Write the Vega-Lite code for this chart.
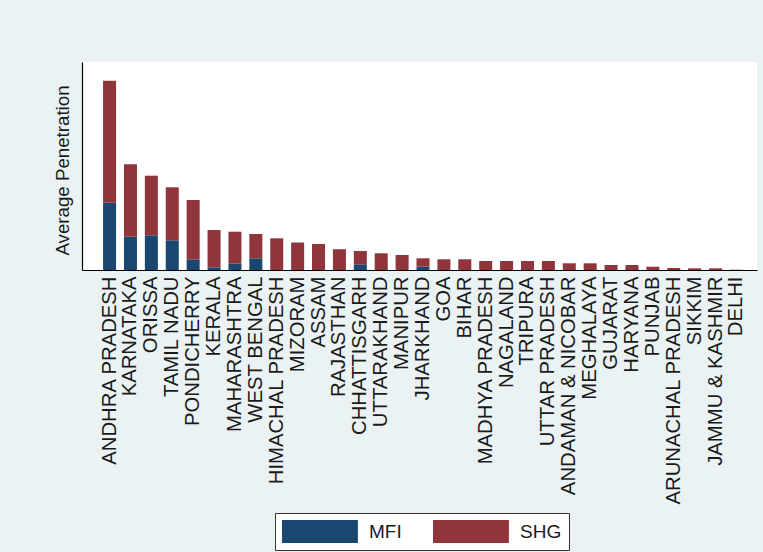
{
  "$schema": "https://vega.github.io/schema/vega-lite/v6.json",
  "autosize": {"type": "none"},
  "width": 675,
  "height": 208,
  "padding": {"left": 82, "top": 62, "right": 6, "bottom": 282},
  "background": "#eaf2f3",
  "data": {
    "values": [
      {"state": "ANDHRA PRADESH", "source": "MFI", "value": 0.673},
      {"state": "ANDHRA PRADESH", "source": "SHG", "value": 1.220},
      {"state": "KARNATAKA", "source": "MFI", "value": 0.333},
      {"state": "KARNATAKA", "source": "SHG", "value": 0.724},
      {"state": "ORISSA", "source": "MFI", "value": 0.347},
      {"state": "ORISSA", "source": "SHG", "value": 0.596},
      {"state": "TAMIL NADU", "source": "MFI", "value": 0.297},
      {"state": "TAMIL NADU", "source": "SHG", "value": 0.530},
      {"state": "PONDICHERRY", "source": "MFI", "value": 0.107},
      {"state": "PONDICHERRY", "source": "SHG", "value": 0.593},
      {"state": "KERALA", "source": "MFI", "value": 0.027},
      {"state": "KERALA", "source": "SHG", "value": 0.373},
      {"state": "MAHARASHTRA", "source": "MFI", "value": 0.063},
      {"state": "MAHARASHTRA", "source": "SHG", "value": 0.320},
      {"state": "WEST BENGAL", "source": "MFI", "value": 0.117},
      {"state": "WEST BENGAL", "source": "SHG", "value": 0.243},
      {"state": "HIMACHAL PRADESH", "source": "MFI", "value": 0},
      {"state": "HIMACHAL PRADESH", "source": "SHG", "value": 0.317},
      {"state": "MIZORAM", "source": "MFI", "value": 0},
      {"state": "MIZORAM", "source": "SHG", "value": 0.275},
      {"state": "ASSAM", "source": "MFI", "value": 0},
      {"state": "ASSAM", "source": "SHG", "value": 0.260},
      {"state": "RAJASTHAN", "source": "MFI", "value": 0},
      {"state": "RAJASTHAN", "source": "SHG", "value": 0.207},
      {"state": "CHHATTISGARH", "source": "MFI", "value": 0.057},
      {"state": "CHHATTISGARH", "source": "SHG", "value": 0.133},
      {"state": "UTTARAKHAND", "source": "MFI", "value": 0},
      {"state": "UTTARAKHAND", "source": "SHG", "value": 0.167},
      {"state": "MANIPUR", "source": "MFI", "value": 0},
      {"state": "MANIPUR", "source": "SHG", "value": 0.150},
      {"state": "JHARKHAND", "source": "MFI", "value": 0.033},
      {"state": "JHARKHAND", "source": "SHG", "value": 0.084},
      {"state": "GOA", "source": "MFI", "value": 0},
      {"state": "GOA", "source": "SHG", "value": 0.107},
      {"state": "BIHAR", "source": "MFI", "value": 0},
      {"state": "BIHAR", "source": "SHG", "value": 0.107},
      {"state": "MADHYA PRADESH", "source": "MFI", "value": 0},
      {"state": "MADHYA PRADESH", "source": "SHG", "value": 0.090},
      {"state": "NAGALAND", "source": "MFI", "value": 0},
      {"state": "NAGALAND", "source": "SHG", "value": 0.090},
      {"state": "TRIPURA", "source": "MFI", "value": 0},
      {"state": "TRIPURA", "source": "SHG", "value": 0.090},
      {"state": "UTTAR PRADESH", "source": "MFI", "value": 0},
      {"state": "UTTAR PRADESH", "source": "SHG", "value": 0.090},
      {"state": "ANDAMAN & NICOBAR", "source": "MFI", "value": 0},
      {"state": "ANDAMAN & NICOBAR", "source": "SHG", "value": 0.067},
      {"state": "MEGHALAYA", "source": "MFI", "value": 0},
      {"state": "MEGHALAYA", "source": "SHG", "value": 0.067},
      {"state": "GUJARAT", "source": "MFI", "value": 0},
      {"state": "GUJARAT", "source": "SHG", "value": 0.050},
      {"state": "HARYANA", "source": "MFI", "value": 0},
      {"state": "HARYANA", "source": "SHG", "value": 0.050},
      {"state": "PUNJAB", "source": "MFI", "value": 0},
      {"state": "PUNJAB", "source": "SHG", "value": 0.033},
      {"state": "ARUNACHAL PRADESH", "source": "MFI", "value": 0},
      {"state": "ARUNACHAL PRADESH", "source": "SHG", "value": 0.020},
      {"state": "SIKKIM", "source": "MFI", "value": 0},
      {"state": "SIKKIM", "source": "SHG", "value": 0.017},
      {"state": "JAMMU & KASHMIR", "source": "MFI", "value": 0},
      {"state": "JAMMU & KASHMIR", "source": "SHG", "value": 0.017},
      {"state": "DELHI", "source": "MFI", "value": 0},
      {"state": "DELHI", "source": "SHG", "value": 0.003}
    ]
  },
  "mark": {"type": "bar"},
  "encoding": {
    "x": {
      "field": "state",
      "type": "nominal",
      "sort": null,
      "scale": {"paddingInner": 0.377, "paddingOuter": 0.84, "align": 0.6},
      "axis": {
        "title": null,
        "labelAngle": -90,
        "labelAlign": "right",
        "labelBaseline": "middle",
        "labelFontSize": 20.3,
        "labelFont": "Liberation Sans",
        "labelColor": "#1a1a1a",
        "labelPadding": 6,
        "labelOverlap": false,
        "labelBound": false,
        "labelLimit": 400,
        "ticks": false,
        "domainColor": "#000000",
        "domainWidth": 1.2
      }
    },
    "y": {
      "field": "value",
      "type": "quantitative",
      "stack": "zero",
      "scale": {"domain": [0, 2.08], "nice": false, "zero": true},
      "axis": {
        "title": "Average Penetration",
        "titleFont": "Liberation Sans",
        "titleFontSize": 18.7,
        "titleFontWeight": "normal",
        "titleColor": "#1a1a1a",
        "titlePadding": 10,
        "titleY": 108,
        "labels": false,
        "ticks": false,
        "grid": false,
        "domainColor": "#000000",
        "domainWidth": 1.2
      }
    },
    "color": {
      "field": "source",
      "type": "nominal",
      "scale": {"domain": ["MFI", "SHG"], "range": ["#1a476f", "#90353b"]},
      "legend": {
        "title": null,
        "orient": "none",
        "legendX": 193,
        "legendY": 451,
        "direction": "horizontal",
        "fillColor": "#ffffff",
        "strokeColor": "#333333",
        "padding": 7,
        "symbolType": "M-1,-1H5.6V1H-1Z",
        "symbolSize": 529,
        "symbolStrokeWidth": 0,
        "symbolOpacity": 1,
        "labelOffset": 64,
        "columnPadding": 31,
        "labelFont": "Liberation Sans",
        "labelFontSize": 19,
        "labelColor": "#1a1a1a"
      }
    },
    "order": {"field": "source", "sort": "ascending"}
  },
  "config": {
    "view": {"fill": "#ffffff", "stroke": null}
  }
}
